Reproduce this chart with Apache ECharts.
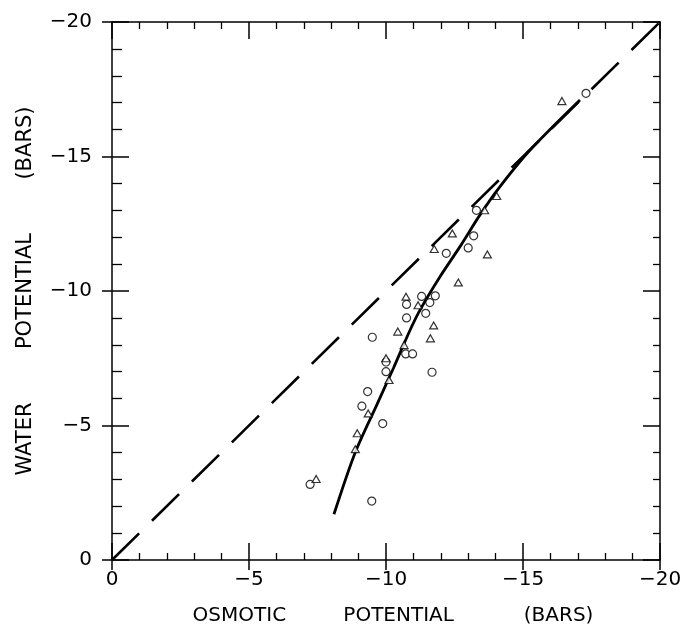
<!DOCTYPE html>
<html>
<head>
<meta charset="utf-8">
<script src="https://cdn.jsdelivr.net/npm/echarts@6/dist/echarts.min.js"></script>
<style>
html,body{margin:0;padding:0;background:#fff;}
#main{width:687px;height:627px;}
</style>
</head>
<body>
<div id="main"></div>
<script>
// Axis ticks (bars)
const xTicks = [0, -5, -10, -15, -20];
const yTicks = [0, -5, -10, -15, -20];

// Open circles: [osmotic potential, water potential]
const circlePoints = [
  [-17.3, -17.35], [-13.3, -13.0], [-13.2, -12.05], [-13.0, -11.6], [-12.2, -11.4],
  [-11.3, -9.8], [-11.8, -9.82], [-10.75, -9.5], [-11.6, -9.57], [-11.45, -9.17],
  [-10.75, -9.0], [-9.5, -8.28], [-10.72, -7.66], [-10.97, -7.66], [-10.0, -7.36],
  [-11.68, -6.98], [-10.0, -7.0], [-9.33, -6.26], [-9.12, -5.72], [-9.88, -5.07],
  [-7.23, -2.81], [-9.48, -2.19]
];

// Open triangles: [osmotic potential, water potential]
const trianglePoints = [
  [-16.42, -17.06], [-13.6, -13.0], [-14.04, -13.53], [-12.42, -12.14], [-11.76, -11.56],
  [-13.7, -11.36], [-12.64, -10.32], [-10.73, -9.79], [-11.17, -9.47], [-11.74, -8.72],
  [-10.43, -8.49], [-11.62, -8.24], [-10.66, -7.99], [-10.0, -7.5], [-10.11, -6.69],
  [-9.35, -5.45], [-8.95, -4.71], [-8.88, -4.12], [-7.45, -3.01]
];

// Fitted solid curve
const curvePoints = [
  [-8.1, -1.7], [-8.87, -3.98], [-9.66, -5.76], [-10.27, -7.13], [-10.88, -8.55],
  [-11.24, -9.29], [-11.97, -10.53], [-12.7, -11.65], [-13.43, -12.83], [-14.16, -13.88],
  [-15.26, -15.24], [-17.08, -17.1]
];

// 1:1 reference line
const identityLine = [[0, 0], [-20, -20]];

const FONT = 'DejaVu Sans';
const fmt = v => (v === 0 ? '0' : '\u2212' + Math.abs(v));
const black = '#000';

function baseAxis(extra) {
  return Object.assign({
    type: 'value', min: -20, max: 0, interval: 5, inverse: true,
    splitLine: { show: false },
    axisLine: { show: true, onZero: false, lineStyle: { color: black, width: 1.5 } },
    axisTick: { show: true, inside: true, length: 17, lineStyle: { color: black, width: 1.5 } },
    minorTick: { show: true, splitNumber: 5, length: 7, lineStyle: { color: black, width: 1.3 } },
    axisLabel: { show: false },
    silent: true
  }, extra);
}

const xAxis = [
  baseAxis({
    position: 'bottom',
    axisLabel: { show: true, formatter: fmt, color: black, fontSize: 20, fontFamily: FONT, margin: 10, customValues: xTicks },
    name: 'OSMOTIC         POTENTIAL           (BARS)',
    nameLocation: 'middle', nameGap: 46,
    nameTextStyle: { color: black, fontSize: 20, fontFamily: FONT, padding: [0, 0, 0, 14] }
  }),
  baseAxis({
    position: 'bottom',
    axisLine: { show: false, onZero: false },
    axisTick: { show: true, inside: false, length: 10, lineStyle: { color: black, width: 1.5 } },
    minorTick: { show: false }
  }),
  baseAxis({ position: 'top' })
];

const yAxis = [
  baseAxis({
    position: 'left',
    minorTick: { show: true, splitNumber: 5, length: 10, lineStyle: { color: black, width: 1.3 } },
    axisLabel: { show: true, formatter: fmt, color: black, fontSize: 20, fontFamily: FONT, margin: 20, customValues: yTicks },
    name: 'WATER        POTENTIAL        (BARS)',
    nameLocation: 'middle', nameGap: 76,
    nameTextStyle: { color: black, fontSize: 21, fontFamily: FONT }
  }),
  baseAxis({
    position: 'left',
    axisLine: { show: false, onZero: false },
    axisTick: { show: true, inside: false, length: 10, lineStyle: { color: black, width: 1.5 } },
    minorTick: { show: false }
  }),
  baseAxis({ position: 'right' })
];

const chart = echarts.init(document.getElementById('main'), null, { renderer: 'canvas' });
chart.setOption({
  animation: false,
  backgroundColor: '#fff',
  grid: { left: 112, right: 27, top: 22, bottom: 67, containLabel: false, outerBoundsMode: 'none' },
  xAxis: xAxis,
  yAxis: yAxis,
  series: [
    {
      type: 'line', data: identityLine, showSymbol: false, silent: true, z: 1,
      lineStyle: { color: black, width: 2.6, type: [38, 18], cap: 'butt' }
    },
    {
      type: 'line', data: curvePoints, smooth: 0.3, showSymbol: false, silent: true, z: 2,
      lineStyle: { color: black, width: 2.8 }
    },
    {
      type: 'scatter', data: circlePoints, symbol: 'circle', symbolSize: 8, silent: true, z: 3,
      itemStyle: { color: '#fff', borderColor: black, borderWidth: 1.2 }
    },
    {
      type: 'scatter', data: trianglePoints, symbol: 'triangle', symbolSize: [8, 7], silent: true, z: 3,
      itemStyle: { color: '#fff', borderColor: black, borderWidth: 1.2 }
    }
  ]
});
</script>
</body>
</html>
